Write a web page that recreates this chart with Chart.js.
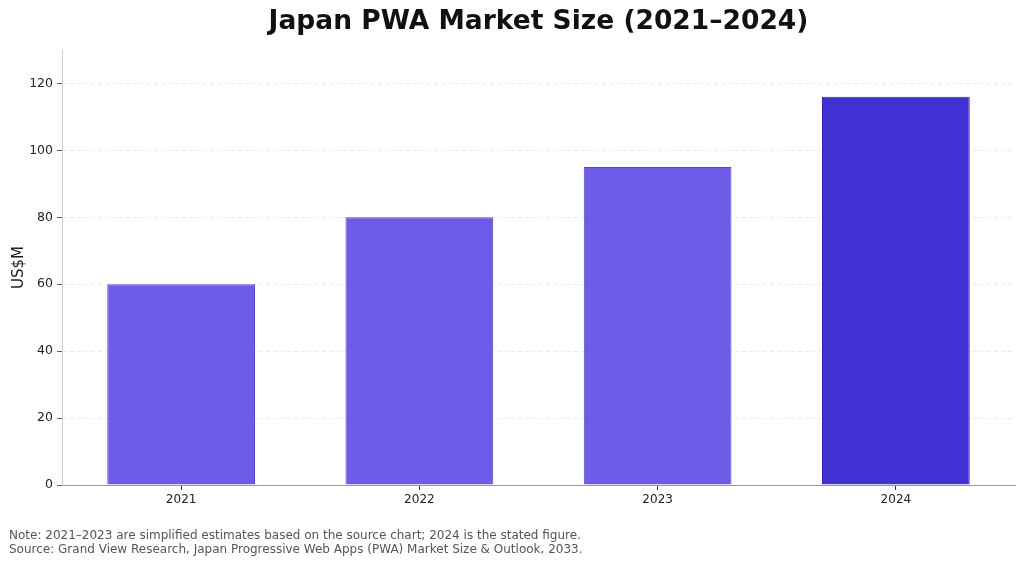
<!DOCTYPE html>
<html>
<head>
<meta charset="utf-8">
<script src="https://cdn.jsdelivr.net/npm/chart.js@4.4.1/dist/chart.umd.min.js"></script>
<style>
  html, body { margin: 0; padding: 0; background: #fff; }
  #wrap { position: relative; width: 1023px; height: 562px; }
  #title {
    position: absolute; left: 62px; width: 953px; top: 5px; text-align: center;
    font: bold 26.5px "DejaVu Sans", sans-serif; color: #111; line-height: 30px;
  }
  #notes {
    position: absolute; left: 9px; top: 529px;
    font: 12px "DejaVu Sans", sans-serif; color: #555; line-height: 13.5px;
  }
</style>
</head>
<body>
<div id="wrap">
  <canvas id="c" width="1023" height="562"></canvas>
  <div id="title">Japan PWA Market Size (2021–2024)</div>
  <div id="notes">
    Note: 2021–2023 are simplified estimates based on the source chart; 2024 is the stated figure.<br>
    Source: Grand View Research, Japan Progressive Web Apps (PWA) Market Size &amp; Outlook, 2033.
  </div>
</div>
<script>
  // данные
  const years = ["2021", "2022", "2023", "2024"];
  const marketSize = [60, 80, 95, 116];
  const yTicks = [0, 20, 40, 60, 80, 100, 120];
  const barColors = ["#6c5ce7", "#6c5ce7", "#6c5ce7", "#4130d2"];
  const edgeColors = ["#5546c8", "#5546c8", "#5546c8", "#2f22a8"];

  const FONT = "'DejaVu Sans', sans-serif";

  new Chart(document.getElementById("c"), {
    type: "bar",
    data: {
      labels: years,
      datasets: [{
        data: marketSize,
        backgroundColor: barColors,
        borderColor: edgeColors,
        borderWidth: 1,
        barPercentage: 0.62,
        categoryPercentage: 1,
      }],
    },
    options: {
      responsive: false,
      animation: false,
      devicePixelRatio: 1,
      layout: { padding: { left: 0, right: 8, top: 50, bottom: 0 } },
      plugins: {
        legend: { display: false },
        tooltip: { enabled: false },
        title: { display: false },
      },
      scales: {
        x: {
          grid: { display: true, drawOnChartArea: false, offset: false, tickLength: 5, tickColor: "#333" },
          border: { color: "#999", width: 1 },
          ticks: { color: "#222", font: { family: FONT, size: 12 }, padding: 3 },
          afterFit: (s) => { s.height = 77; },
        },
        y: {
          min: 0, max: 130, bounds: "data",
          grid: { color: "#e6e6e6", tickColor: "#333", tickLength: 5, lineWidth: 0.8 },
          border: { color: "#ccc", width: 1, dash: [4, 3] },
          ticks: { stepSize: 20, color: "#222", font: { family: FONT, size: 12.5 }, padding: 4 },
          afterBuildTicks: (s) => { s.ticks = yTicks.map((v) => ({ value: v })); },
          title: { display: true, text: "US$M", color: "#222", font: { family: FONT, size: 15 }, padding: { top: 10, bottom: 0 } },
          afterFit: (s) => { s.width = 62; },
        },
      },
    },
  });
</script>
</body>
</html>
